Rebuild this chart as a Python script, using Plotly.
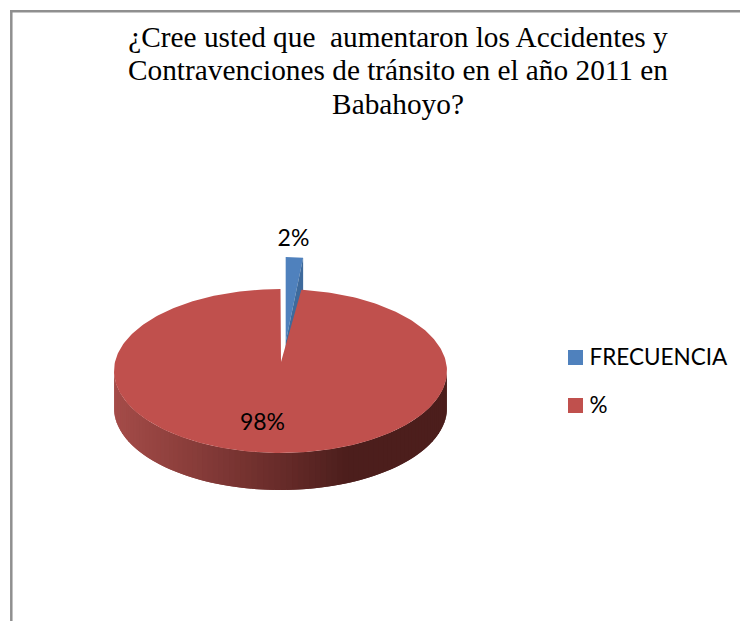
import numpy as np
import plotly.graph_objects as go

labels = ["FRECUENCIA", "%"]
shares = [2, 98]
colors = ["#4f81bd", "#c0504d"]
pct_text = ["2%", "98%"]
title_lines = ["¿Cree usted que\u00a0 aumentaron los Accidentes y",
               "Contravenciones de tránsito en el año 2011 en",
               "Babahoyo?"]

# geometry of the tilted pie, in page pixels
cx, cy, rx, ry = 280.5, 371, 166.5, 82
apex_x, apex_y = 281, 362
depth = 37
blue_cx, blue_top, blue_rx, blue_ry, blue_apex = 285.7, 257, 139, 80, 342

blue_end = 2 * np.pi * shares[0] / sum(shares)


def rim(t):
    return cx + rx * np.sin(t), cy - ry * np.cos(t)


def wall_color(x):
    # side wall shading, left to right
    stops_x = [114, 200, 280, 350, 447]
    r = np.interp(x, stops_x, [165, 135, 105, 76, 76])
    g = np.interp(x, stops_x, [76, 60, 44, 30, 30])
    b = np.interp(x, stops_x, [73, 57, 42, 28, 28])
    return f"rgb({r:.0f},{g:.0f},{b:.0f})"


def poly(x, y, color):
    return go.Scatter(x=x, y=y, mode="lines", fill="toself", fillcolor=color,
                      line=dict(width=0), hoverinfo="skip", showlegend=False)


fig = go.Figure()

# exploded small slice
t = np.linspace(0, blue_end, 12)
bx = blue_cx + blue_rx * np.sin(t)
by = blue_top + blue_ry * (1 - np.cos(t))
fig.add_trace(poly(list(bx) + [blue_cx], list(by) + [blue_apex], colors[0]))
fig.add_trace(poly([bx[-1], bx[-1], blue_cx, blue_cx],
                   [by[-1], by[-1] + 38, blue_apex + 10, blue_apex], "#3e6a9c"))

# side wall of the big slice, bands overlap so no seams show
edges = np.linspace(np.pi / 2, 3 * np.pi / 2, 91)
for a, b in list(zip(edges[:-2], edges[2:]))[::-1]:
    ts = np.linspace(a, b, 4)
    x, y = rim(ts)
    fig.add_trace(poly(list(x) + list(x[::-1]), list(y) + list(y[::-1] + depth),
                       wall_color(x.mean())))

# top of the big slice
t = np.linspace(blue_end, 2 * np.pi, 300)
x, y = rim(t)
fig.add_trace(poly([apex_x] + list(x) + [apex_x], [apex_y] + list(y) + [apex_y], colors[1]))

# frame
fig.add_shape(type="line", x0=11.3, x1=11.3, y0=11, y1=621, line=dict(color="#8f8f8f", width=2.5))
fig.add_shape(type="line", x0=10, x1=740, y0=11.3, y1=11.3, line=dict(color="#8f8f8f", width=2.5))

# legend
fig.add_trace(go.Scatter(x=[575.5, 575.5], y=[357.5, 405.5], mode="markers",
                         marker=dict(symbol="square", size=15, color=colors, line=dict(width=0)),
                         hoverinfo="skip", showlegend=False))
fig.add_trace(go.Scatter(x=[589.5, 589.5], y=[359.5, 407.5], mode="text",
                         text=labels, textposition="middle right", cliponaxis=False,
                         textfont=dict(family="Lato", size=22.5, color="#000000"),
                         hoverinfo="skip", showlegend=False))

# slice percentages
fig.add_trace(go.Scatter(x=[293.5, 262.5], y=[240, 424], mode="text", text=pct_text,
                         textfont=dict(family="Lato", size=23, color="#000000"),
                         hoverinfo="skip", showlegend=False))

# title
fig.add_trace(go.Scatter(x=[398, 398, 398], y=[40, 73, 107], mode="text", text=title_lines,
                         textfont=dict(family="Liberation Serif", size=29.3, color="#000000"),
                         hoverinfo="skip", showlegend=False))

fig.update_xaxes(range=[0, 740], visible=False, fixedrange=True)
fig.update_yaxes(range=[621, 0], visible=False, fixedrange=True)
fig.update_layout(width=740, height=621, margin=dict(l=0, r=0, t=0, b=0),
                  paper_bgcolor="#ffffff", plot_bgcolor="#ffffff", showlegend=False)

fig.write_html("out.html", config={"displayModeBar": False},
               post_script="document.body.style.margin='0';document.documentElement.style.overflow='hidden';")
